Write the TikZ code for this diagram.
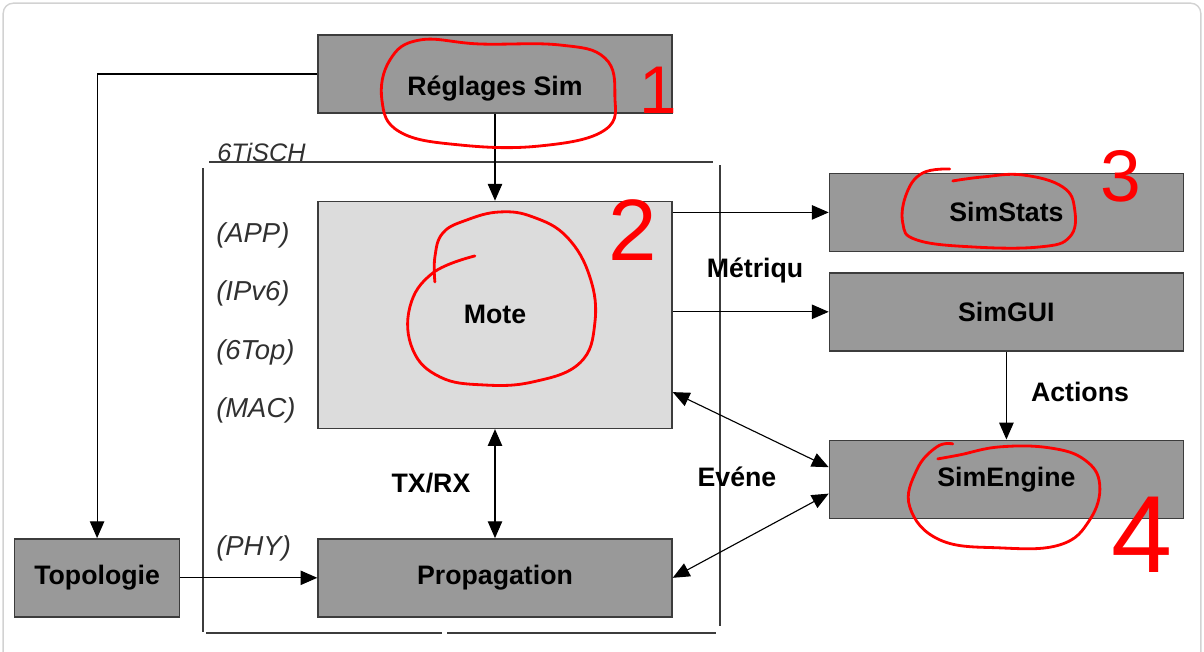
\documentclass[tikz,border=0pt]{standalone}
\usepackage{fontspec}
\setmainfont{Liberation Sans}
\usepackage{tikz}
\usetikzlibrary{positioning}
\usetikzlibrary{arrows.meta,calc}
\definecolor{boxgray}{HTML}{999999}
\definecolor{motegray}{HTML}{DCDCDC}
\definecolor{boxline}{HTML}{3C3C3C}
\definecolor{textgray}{HTML}{303030}
\tikzset{line/.style={draw, line width=0.8pt, -{Triangle[length=0.42cm,width=0.36cm]}}}
\tikzset{dline/.style={line, {Triangle[length=0.42cm,width=0.36cm]}-{Triangle[length=0.42cm,width=0.36cm]}}}

\begin{document}
\begin{tikzpicture}
\tikzstyle{block} = [rectangle, draw=boxline, line width=1pt, fill=boxgray, minimum width=8.85cm, minimum height=1.95cm, inner sep=0pt, font=\fontsize{19}{21}\selectfont\bfseries]
\tikzstyle{layer} = [anchor=west, inner sep=0pt, text=textgray, font=\fontsize{19.5}{21}\selectfont\itshape]
\tikzstyle{lbl} = [inner sep=0pt, font=\fontsize{19}{21}\selectfont\bfseries]
\tikzstyle{frame} = [draw=boxline, line width=0.9pt]
\tikzstyle{scribble} = [draw=red, line width=2pt, line cap=round, line join=round]
\tikzstyle{digit} = [inner sep=0pt, text=red]

\useasboundingbox (0,0) rectangle (30.1,-16.275);
\draw [gray!35, line width=1pt, rounded corners=0.25cm] (0.08,-16.6) -- (0.08,-0.08) -- (30.02,-0.08) -- (30.02,-16.6);

% 6TiSCH frame
    \draw [frame] (5.075,-4.2) -- (5.075,-15.8);
    \draw [frame] (5.225,-4.05) -- (17.825,-4.05);
    \draw [frame] (18.0,-4.125) -- (18.0,-15.65);
    \draw [frame] (5.15,-15.825) -- (11.05,-15.825);
    \draw [frame] (11.175,-15.825) -- (17.9,-15.825);
    \node [layer, font=\fontsize{18}{20}\selectfont\itshape] (tisch) at (5.425,-3.8) {6TiSCH};
    \node [layer] (app) at (5.4,-5.875) {(APP)};
    \node [layer] (ipv6) at (5.4,-7.325) {(IPv6)};
    \node [layer] (sixtop) at (5.4,-8.8) {(6Top)};
    \node [layer] (mac) at (5.4,-10.25) {(MAC)};
    \node [layer] (phy) at (5.4,-13.7) {(PHY)};

% blocks
    \node [block, text height=1.2cm, text depth=0.15cm] (reglages) at (12.375,-1.85) {Réglages Sim};
    \node [block, fill=motegray, minimum height=5.675cm, below=2.175cm of reglages] (mote) {Mote};
    \node [block, below=2.725cm of mote] (propagation) {Propagation};
    \node [block, minimum width=4.125cm, left=3.425cm of propagation] (topologie) {Topologie};
    \node [block, right=3.9cm of mote.north east, anchor=north west, yshift=0.7cm] (simstats) {SimStats};
    \node [block, below=0.5cm of simstats] (simgui) {SimGUI};
    \node [block, below=2.2cm of simgui] (simengine) {SimEngine};

% labels
    \node [lbl] (metriqu) at (18.875,-6.75) {Métriqu};
    \node [lbl] (evene) at (18.425,-11.925) {Evéne};
    \node [lbl] (actions) at (27.0,-9.8) {Actions};
    \node [lbl] (txrx) at (10.775,-12.075) {TX/RX};

% arrows
    \path [line] (reglages.west) -| (topologie.north);
    \path [line] (reglages.south) -- (mote.north);
    \path [line] (topologie.east) -- (propagation.west);
    \path [line] (mote.east |- simstats.west) -- (simstats.west);
    \path [line] (mote.east |- simgui.west) -- (simgui.west);
    \path [line] (simgui.south) -- (simengine.north);
    \path [dline] ($(mote.south east)+(0,0.925)$) -- ($(simengine.west)+(0,0.3)$);
    \path [dline] (propagation.east) -- ($(simengine.west)+(0,-0.36)$);
    \path [dline] (mote.south) -- (propagation.north);

% red marks
\begin{scope}[x=0.025cm, y=-0.025cm]
    \draw [scribble] plot [smooth cycle, tension=0.7] coordinates {(420,40) (480,44) (560,45) (605,58) (615,95) (605,130) (540,146) (460,145) (400,132) (382,100) (390,60)};
    \draw [scribble] plot [smooth, tension=0.7] coordinates {(475,256) (433,273) (410,307) (413,350) (440,377) (483,385) (533,382) (580,363) (595,323) (590,277) (567,237) (533,217) (500,212) (467,220) (443,233) (435,257) (435,282)};
    \draw [scribble] plot [smooth, tension=0.7] coordinates {(950,169) (923,173) (907,193) (903,223) (917,240) (973,247) (1040,247) (1070,237) (1075,210) (1063,187) (1023,175) (983,177) (953,181)};
    \draw [scribble] plot [smooth, tension=0.7] coordinates {(953,444) (937,447) (917,470) (910,507) (940,540) (1000,548) (1060,545) (1090,520) (1100,485) (1085,460) (1050,448) (1000,447) (960,455) (938,459)};
    \node [digit, font=\fontsize{48}{48}\selectfont] (one) at (658,90) {1};
    \node [digit, font=\fontsize{62}{62}\selectfont] (two) at (633,230) {2};
    \node [digit, font=\fontsize{52}{52}\selectfont] (three) at (1121,176) {3};
    \node [digit, font=\fontsize{78}{78}\selectfont] (four) at (1142,535) {4};
\end{scope}
\end{tikzpicture}
\end{document}
